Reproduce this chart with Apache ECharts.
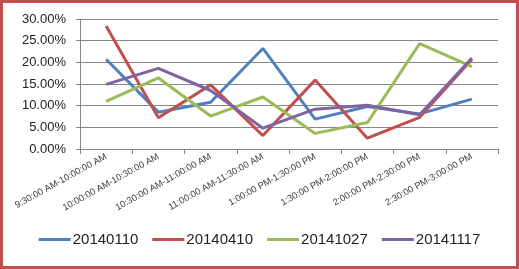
<!DOCTYPE html>
<html><head><meta charset="utf-8">
<script src="https://cdn.jsdelivr.net/npm/echarts@6/dist/echarts.min.js"></script>
<style>
html,body{margin:0;padding:0;background:#fff;}
#wrap{position:absolute;left:0;top:0;width:513px;height:263px;border:3px solid #C0504D;background:#fff;}
#c{position:absolute;left:-3px;top:-3px;width:519px;height:269px;}
</style></head>
<body><div id="wrap"><div id="c"></div></div>
<script>
var categories = ["9:30:00 AM-10:00:00 AM","10:00:00 AM-10:30:00 AM","10:30:00 AM-11:00:00 AM","11:00:00 AM-11:30:00 AM","1:00:00 PM-1:30:00 PM","1:30:00 PM-2:00:00 PM","2:00:00 PM-2:30:00 PM","2:30:00 PM-3:00:00 PM"];
var s20140110 = [0.207, 0.085, 0.108, 0.232, 0.069, 0.098, 0.081, 0.115];
var s20140410 = [0.284, 0.072, 0.148, 0.031, 0.159, 0.025, 0.073, 0.207];
var s20141027 = [0.110, 0.164, 0.076, 0.120, 0.036, 0.061, 0.243, 0.190];
var s20141117 = [0.149, 0.186, 0.135, 0.048, 0.092, 0.101, 0.079, 0.210];
var seriesNames = ["20140110","20140410","20141027","20141117"];
var colors = ["#4F81BD","#C0504D","#9BBB59","#8064A2"];
var yTicks = {min:0, max:0.3, interval:0.05};

var data = [s20140110, s20140410, s20141027, s20141117];
var chart = echarts.init(document.getElementById('c'), null, {renderer:'canvas'});
chart.setOption({
  animation:false,
  backgroundColor:'transparent',
  color: colors,
  grid:{left:80, right:21, top:19, bottom:120, containLabel:false},
  legend:{
    bottom:17, left:'center', itemWidth:32, itemHeight:3, itemGap:14,
    icon:'rect',
    textStyle:{fontFamily:'Liberation Sans', fontSize:15, color:'#222', padding:[0,0,0,-3]},
    data: seriesNames
  },
  xAxis:{
    type:'category', data:categories, boundaryGap:true,
    axisLine:{lineStyle:{color:'#868686', width:1}},
    axisTick:{show:true, length:5, lineStyle:{color:'#868686'}, alignWithLabel:false},
    axisLabel:{rotate:29, interval:0, fontFamily:'Liberation Sans', fontSize:9.3, color:'#404040', margin:7}
  },
  yAxis:{
    type:'value', min:yTicks.min, max:yTicks.max, interval:yTicks.interval,
    axisLine:{show:true, lineStyle:{color:'#868686'}},
    axisTick:{show:true, length:4, lineStyle:{color:'#868686'}},
    splitLine:{lineStyle:{color:'#868686', width:1}},
    axisLabel:{fontFamily:'Liberation Sans', fontSize:13, color:'#222', margin:14,
      formatter:function(v){return (v*100).toFixed(2)+'%';}}
  },
  series: data.map(function(d,i){
    return {name:seriesNames[i], type:'line', data:d, symbol:'none',
      lineStyle:{width:3, color:colors[i]}, itemStyle:{color:colors[i]}};
  })
});
</script>
</body></html>
